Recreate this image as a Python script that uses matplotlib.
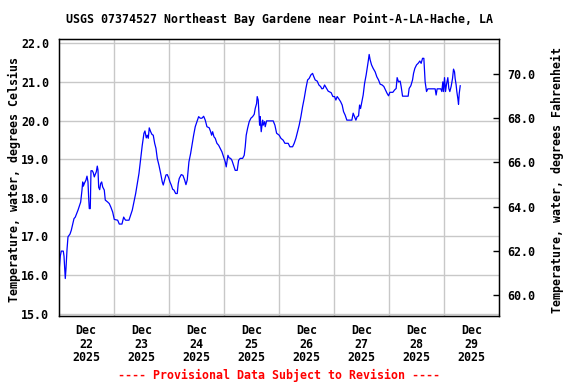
import numpy as np
import pandas as pd
import matplotlib
matplotlib.use("Agg")
import matplotlib.pyplot as plt
import matplotlib.dates as mdates

# hours since 2025-12-22 00:00 and water temperature (deg C)
hours = [0.0, 0.26, 0.70, 1.13, 2.00, 2.31, 2.87, 3.18, 3.62, 4.05, 4.92, 5.49, 6.10, 6.66,
         7.23, 7.84, 8.41, 8.97, 9.58, 10.15, 10.45, 10.72, 11.32, 11.89, 12.33, 12.76, 13.07,
         13.33, 13.76, 14.07, 14.64, 15.07, 15.51, 15.94, 16.38, 16.81, 17.12, 17.42, 17.86,
         18.29, 18.73, 19.17, 19.86, 20.30, 21.34, 22.04, 22.78, 23.52, 24.22, 25.70, 26.40,
         27.57, 28.31, 28.88, 29.18, 30.62, 31.36, 32.06, 32.80, 33.54, 34.24, 34.98, 35.72,
         36.41, 37.15, 37.59, 38.16, 38.59, 39.03, 39.46, 40.07, 40.64, 41.20, 41.82, 42.38,
         42.95, 43.69, 44.43, 45.13, 45.56, 46.17, 46.74, 47.30, 47.91, 48.48, 49.05, 49.66,
         50.22, 50.96, 51.66, 52.09, 52.53, 53.40, 54.14, 54.88, 55.45, 56.01, 56.75, 57.50,
         58.80, 59.50, 60.24, 60.98, 61.68, 62.42, 63.16, 63.86, 64.60, 65.60, 66.21, 66.64,
         67.08, 67.65, 68.21, 68.95, 69.69, 70.39, 71.13, 71.87, 72.57, 73.00, 73.44, 73.74,
         74.31, 74.92, 75.48, 76.22, 76.92, 77.79, 78.40, 79.10, 80.14, 80.84, 81.28, 81.71,
         82.32, 83.02, 83.76, 84.50, 85.20, 85.63, 86.24, 86.50, 86.94, 87.55, 87.81, 88.25,
         88.86, 89.12, 89.73, 89.99, 90.60, 93.47, 94.21, 94.96, 96.09, 96.83, 97.83, 98.57,
         100.01, 100.75, 101.92, 102.62, 103.36, 104.10, 104.80, 105.54, 106.28, 106.98,
         107.72, 108.46, 109.16, 109.89, 110.63, 111.20, 111.77, 112.64, 113.38, 114.12,
         114.69, 115.25, 115.86, 116.73, 117.43, 118.74, 119.48, 120.22, 120.78, 121.35,
         121.96, 122.83, 123.53, 124.13, 124.83, 125.57, 127.75, 128.32, 128.93, 129.50,
         130.06, 130.67, 131.11, 131.54, 132.11, 132.68, 133.29, 133.98, 134.42, 134.85,
         135.29, 135.72, 136.33, 137.03, 137.90, 138.64, 139.38, 140.08, 140.95, 141.69,
         142.43, 143.13, 143.74, 144.31, 145.61, 146.35, 147.05, 147.48, 148.09, 148.79,
         149.23, 149.84, 152.28, 152.71, 153.45, 154.19, 154.63, 155.20, 155.94, 156.63,
         157.37, 157.94, 158.55, 159.12, 159.68, 160.29, 160.86, 164.04, 164.47, 164.91,
         166.52, 166.96, 167.39, 167.70, 168.13, 168.57, 169.00, 169.57, 170.00, 170.44,
         171.01, 171.62, 172.05, 172.49, 172.75, 173.19, 173.49, 173.93, 174.23, 174.54, 174.97]
temp_c = [15.91, 16.17, 16.49, 16.62, 16.62, 16.49, 15.91, 16.17, 16.66, 16.99, 17.06, 17.16,
          17.32, 17.46, 17.50, 17.59, 17.68, 17.78, 17.89, 18.20, 18.41, 18.30, 18.39, 18.46,
          18.56, 18.41, 17.98, 17.72, 17.72, 18.70, 18.70, 18.65, 18.54, 18.61, 18.67, 18.82,
          18.72, 18.27, 18.21, 18.37, 18.41, 18.28, 18.20, 17.94, 17.89, 17.85, 17.75, 17.63,
          17.44, 17.42, 17.32, 17.32, 17.50, 17.44, 17.42, 17.42, 17.55, 17.68, 17.89, 18.11,
          18.37, 18.63, 19.02, 19.36, 19.67, 19.73, 19.55, 19.62, 19.54, 19.81, 19.71, 19.64,
          19.62, 19.41, 19.28, 19.02, 18.84, 18.63, 18.41, 18.33, 18.46, 18.59, 18.60, 18.52,
          18.41, 18.33, 18.22, 18.20, 18.11, 18.11, 18.37, 18.50, 18.60, 18.58, 18.46, 18.34,
          18.46, 18.93, 19.15, 19.62, 19.84, 19.97, 20.10, 20.06, 20.06, 20.11, 20.01, 19.84,
          19.81, 19.71, 19.62, 19.71, 19.58, 19.54, 19.41, 19.36, 19.28, 19.19, 19.06, 18.93,
          18.80, 18.97, 19.10, 19.03, 19.02, 18.97, 18.84, 18.71, 18.71, 18.97, 19.02, 19.02,
          19.10, 19.32, 19.62, 19.80, 19.97, 20.06, 20.10, 20.16, 20.31, 20.44, 20.62, 20.53,
          19.88, 20.10, 19.71, 20.01, 19.88, 19.97, 19.84, 19.99, 19.99, 19.88, 19.67, 19.62,
          19.54, 19.49, 19.41, 19.41, 19.32, 19.32, 19.41, 19.54, 19.71, 19.88, 20.10, 20.36,
          20.57, 20.83, 21.05, 21.09, 21.18, 21.22, 21.13, 21.05, 21.02, 20.92, 20.88, 20.82,
          20.83, 20.92, 20.83, 20.76, 20.72, 20.62, 20.62, 20.53, 20.62, 20.57, 20.49, 20.40,
          20.23, 20.14, 20.01, 20.01, 20.19, 20.10, 20.01, 20.10, 20.12, 20.40, 20.31, 20.49,
          20.66, 20.96, 21.18, 21.35, 21.52, 21.71, 21.57, 21.44, 21.35, 21.26, 21.13, 21.05,
          20.94, 20.92, 20.88, 20.79, 20.70, 20.64, 20.73, 20.73, 20.79, 20.83, 21.11, 21.00,
          21.02, 20.88, 20.63, 20.63, 20.83, 20.90, 21.05, 21.22, 21.35, 21.44, 21.48, 21.54,
          21.48, 21.61, 21.61, 21.00, 20.75, 20.82, 20.82, 20.66, 20.82, 20.82, 20.75, 21.00,
          20.75, 21.11, 20.75, 20.94, 21.11, 20.83, 20.75, 20.88, 21.09, 21.33, 21.26, 21.09,
          20.92, 20.75, 20.57, 20.42, 20.70, 20.90]

start = pd.Timestamp("2025-12-22 00:00")
days = pd.date_range("2025-12-22", "2025-12-30", freq="D")
c_ticks = [15.0, 16.0, 17.0, 18.0, 19.0, 20.0, 21.0, 22.0]
f_ticks = [60.0, 62.0, 64.0, 66.0, 68.0, 70.0]

title = "USGS 07374527 Northeast Bay Gardene near Point-A-LA-Hache, LA"
font = dict(family="DejaVu Sans Mono", weight="bold", size=8.38)

times = start + pd.to_timedelta(hours, unit="h")

fig = plt.figure(figsize=(5.76, 3.84), dpi=100)
ax = fig.add_axes([58.7 / 576, 1 - 316 / 384, 440.6 / 576, 277 / 384])
ax.plot(times, temp_c, color="#0000ff", lw=0.9, zorder=3)

ax.set_xlim(days[0], days[-1])
ax.set_ylim(14.94, 22.11)
ax.set_yticks(c_ticks)
ax.set_yticklabels([f"{v:.1f}" for v in c_ticks], **font)

# gridlines at midnight, labels at noon
ax.set_xticks(days[1:-1])
ax.set_xticklabels([])
noon = days[:-1] + pd.Timedelta(hours=12)
ax.set_xticks(noon, minor=True)
ax.set_xticklabels([d.strftime("%b\n%d\n%Y") for d in noon], minor=True, linespacing=1.03, **font)
ax.tick_params(axis="x", which="both", length=0, pad=6)
ax.tick_params(axis="y", length=0, pad=7)
ax.grid(True, which="major", color="#c8c8c8", lw=1.0)
for s in ax.spines.values():
    s.set_linewidth(1.0)

ax2 = ax.twinx()
ax2.set_ylim(59.05, 71.58)
ax2.set_yticks(f_ticks)
ax2.set_yticklabels([f"{v:.1f}" for v in f_ticks], **font)
ax2.tick_params(axis="y", direction="in", length=4, width=1, pad=6)

fig.text(279 / 576, 1 - 19 / 384, title, ha="center", va="center", **font)
fig.text(14 / 576, 1 - 180 / 384, "Temperature, water, degrees Celsius",
         rotation=90, ha="center", va="center", **font)
fig.text(557 / 576, 1 - 180 / 384, "Temperature, water, degrees Fahrenheit",
         rotation=90, ha="center", va="center", **font)
fig.text(279 / 576, 1 - 375 / 384, "---- Provisional Data Subject to Revision ----",
         ha="center", va="center", color="red", **font)

fig.savefig("out.png", dpi=100)
